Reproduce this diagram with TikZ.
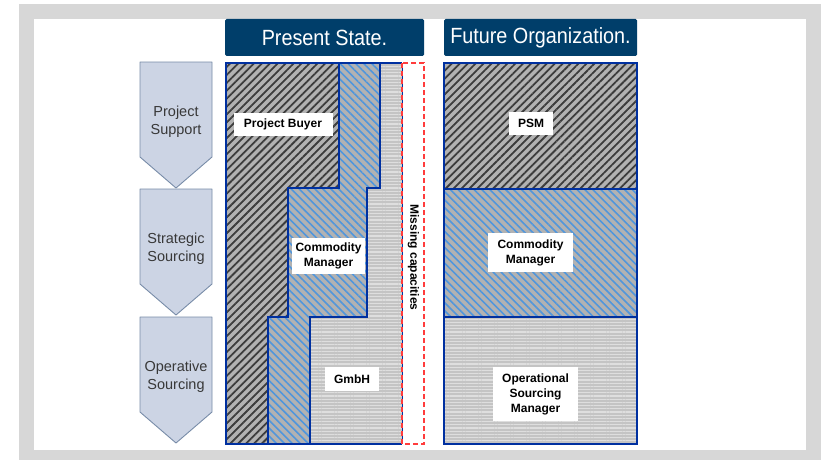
\documentclass[tikz,border=0pt]{standalone}
\usepackage{fontspec}
\setmainfont{Liberation Sans}
\newfontfamily\headfont[FakeStretch=0.9]{Liberation Sans}
\usetikzlibrary{patterns.meta, positioning}

\definecolor{framegray}{RGB}{215,215,215}
\definecolor{headblue}{RGB}{0,62,106}
\definecolor{chevfill}{RGB}{204,212,228}
\definecolor{chevline}{RGB}{120,140,168}
\definecolor{chevtext}{RGB}{56,56,56}
\definecolor{lineblue}{RGB}{0,48,160}
\definecolor{hatchbg}{RGB}{178,178,178}
\definecolor{hatchdark}{RGB}{60,60,60}
\definecolor{hatchblue}{RGB}{80,150,220}
\definecolor{stripebg}{RGB}{196,196,196}
\definecolor{stripelight}{RGB}{222,222,222}
\definecolor{missred}{RGB}{255,60,60}

\tikzset{
  chevron/.style={draw=chevline, fill=chevfill, line width=0.9pt, line join=round},
  chevtext/.style={align=center, text=chevtext, font=\fontsize{14.5}{18}\selectfont},
  header/.style={fill=headblue, rounded corners=1.5pt, text=white, inner sep=0pt,
    font=\headfont\fontsize{22}{24}\selectfont},
  tag/.style={fill=white, align=center, inner sep=0pt, font=\bfseries\fontsize{12}{15}\selectfont},
  darkhatch/.style={preaction={fill=hatchbg}, pattern color=hatchdark,
    pattern={Lines[angle=45,distance=5.6pt,line width=1.8pt]}},
  bluehatch/.style={preaction={fill=hatchbg}, pattern color=hatchblue,
    pattern={Lines[angle=-45,distance=5.6pt,line width=1.6pt]}},
  stripes/.style={preaction={fill=stripebg}, pattern color=stripelight,
    pattern={Lines[angle=0,distance=3.2pt,line width=1.3pt]}},
  outline/.style={draw=lineblue, line width=2.2pt, line join=miter}
}

\begin{document}
\begin{tikzpicture}[x=1pt,y=-1pt]
  \useasboundingbox (0,0) rectangle (821,460);
  \fill[white] (0,0) rectangle (821,460);
  \fill[framegray] (19,4) rectangle (821,460);
  \fill[white] (34,19) rectangle (806,450);

  % headers
  \node[header, minimum width=199pt, minimum height=37pt] (present) at (324.5,37.5) {Present State.};
  \node[header, minimum width=193pt, minimum height=37pt] (future) at (540.5,37.5) {Future Organization.};

  % phases
  \foreach \t/\name/\txt in {62/support/{Project\\Support}, 189/strategic/{Strategic\\Sourcing}, 317/operative/{Operative\\Sourcing}} {
    \draw[chevron] (140,\t) -- (212,\t) -- (212,\t+95) -- (176,\t+126) -- (140,\t+95) -- cycle;
    \node[chevtext] (\name) at (176,\t+60) {\txt};
  }

  % present state
  \path[darkhatch] (226,63) -- (339,63) -- (339,188) -- (288,188) -- (288,317) -- (268,317)
    -- (268,444) -- (226,444) -- cycle;
  \path[bluehatch] (339,63) -- (380,63) -- (380,188) -- (367,188) -- (367,317) -- (310,317)
    -- (310,444) -- (268,444) -- (268,317) -- (288,317) -- (288,188) -- (339,188) -- cycle;
  \path[stripes] (380,63) -- (402,63) -- (402,444) -- (310,444) -- (310,317) -- (367,317)
    -- (367,188) -- (380,188) -- cycle;
  \draw[lineblue, line width=1pt] (402,63) -- (402,444);
  \draw[outline] (402,63) -- (226,63) -- (226,444) -- (402,444);
  \draw[outline] (339,63) -- (339,188) -- (288,188) -- (288,317) -- (268,317) -- (268,444);
  \draw[outline] (380,63) -- (380,188) -- (367,188) -- (367,317) -- (310,317) -- (310,444);
  \draw[missred, line width=1.3pt, dash pattern=on 5pt off 3pt] (402,63) rectangle (424,444);

  \node[tag, minimum width=99pt, minimum height=23pt] (buyer) at (283,124.5) {Project Buyer};
  \node[tag, minimum width=73pt, minimum height=36pt] (commodity) at (328.5,256) {Commodity\\Manager};
  \node[tag, minimum width=54pt, minimum height=24pt] (gmbh) at (352,379) {GmbH};
  \node[rotate=-90, font=\bfseries\fontsize{12}{14}\selectfont] (missing) at (413.5,257.5) {Missing capacities};

  % future organization
  \path[darkhatch] (444,63) rectangle (637,189);
  \path[bluehatch] (444,189) rectangle (637,317);
  \path[stripes] (444,317) rectangle (637,444);
  \draw[outline] (444,63) rectangle (637,444);
  \draw[outline] (444,189) -- (637,189) (444,317) -- (637,317);

  \node[tag, minimum width=44pt, minimum height=23pt] (psm) at (531,123.5) {PSM};
  \node[tag, minimum width=85pt, minimum height=39pt] (commodity2) at (530.5,252.5) {Commodity\\Manager};
  \node[tag, minimum width=85pt, minimum height=54pt] (osm) at (535.5,394) {Operational\\Sourcing\\Manager};
\end{tikzpicture}
\end{document}
